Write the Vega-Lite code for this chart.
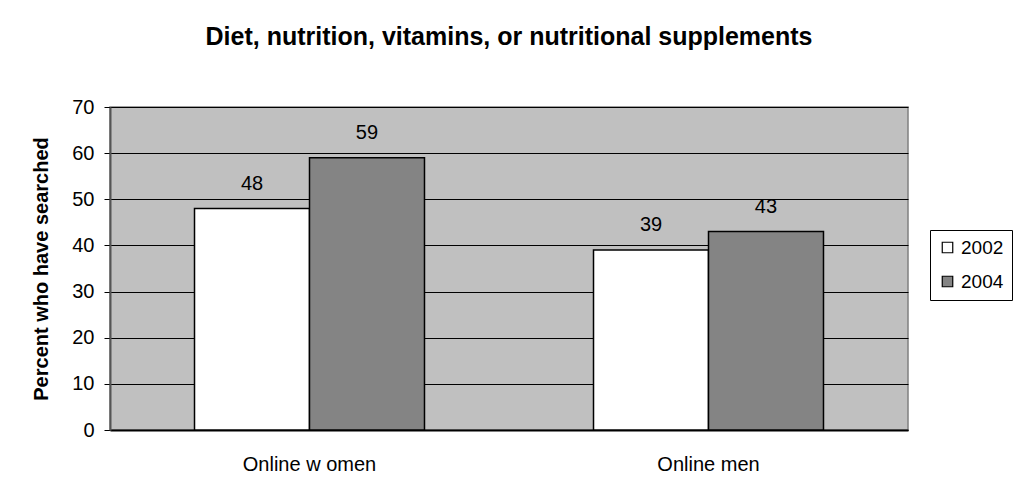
{
  "$schema": "https://vega.github.io/schema/vega-lite/v6.json",
  "autosize": {"type": "none"},
  "width": 798,
  "height": 323,
  "padding": {"left": 110, "top": 107, "right": 110, "bottom": 71},
  "background": "white",
  "title": {
    "text": "Diet, nutrition, vitamins, or nutritional supplements",
    "font": "Liberation Sans",
    "fontSize": 25,
    "fontWeight": "bold",
    "color": "black",
    "anchor": "middle",
    "offset": 47
  },
  "data": {
    "values": [
      {"group": "Online w omen", "year": "2002", "value": 48},
      {"group": "Online w omen", "year": "2004", "value": 59},
      {"group": "Online men", "year": "2002", "value": 39},
      {"group": "Online men", "year": "2004", "value": 43}
    ]
  },
  "encoding": {
    "x": {
      "field": "group",
      "type": "nominal",
      "sort": ["Online w omen", "Online men"],
      "scale": {"paddingInner": 0.4236, "paddingOuter": 0.2118},
      "axis": {
        "title": null,
        "labelAngle": 0,
        "labelFont": "Liberation Sans",
        "labelFontSize": 20,
        "labelColor": "black",
        "labelPadding": 24,
        "ticks": false,
        "domainColor": "black",
        "domainWidth": 2
      }
    },
    "xOffset": {"field": "year", "type": "nominal", "scale": {"paddingInner": 0, "paddingOuter": 0}},
    "y": {
      "field": "value",
      "type": "quantitative",
      "scale": {"domain": [0, 70], "nice": false},
      "axis": {
        "title": "Percent who have searched",
        "titleFont": "Liberation Sans",
        "titleFontSize": 20,
        "titleFontWeight": "bold",
        "titleColor": "black",
        "titlePadding": 20,
        "values": [0, 10, 20, 30, 40, 50, 60, 70],
        "labelFont": "Liberation Sans",
        "labelFontSize": 20,
        "labelColor": "black",
        "labelPadding": 10,
        "tickSize": 6,
        "tickColor": "black",
        "domainColor": "#555555",
        "domainWidth": 2,
        "grid": true,
        "gridColor": "black",
        "gridWidth": 1
      }
    }
  },
  "layer": [
    {
      "mark": {"type": "bar", "stroke": "black", "strokeWidth": 1.5},
      "encoding": {
        "fill": {
          "field": "year",
          "type": "nominal",
          "scale": {"domain": ["2002", "2004"], "range": ["#ffffff", "#848484"]},
          "legend": {
            "title": null,
            "orient": "none",
            "legendX": 820,
            "legendY": 123,
            "labelFont": "Liberation Sans",
            "labelFontSize": 19,
            "labelColor": "black",
            "labelOffset": 4,
            "symbolType": "square",
            "symbolSize": 110,
            "symbolStrokeColor": "black",
            "symbolStrokeWidth": 1.2,
            "rowPadding": 14,
            "padding": 8,
            "strokeColor": "black",
            "fillColor": "white"
          }
        }
      }
    },
    {
      "mark": {"type": "text", "dy": -25, "font": "Liberation Sans", "fontSize": 20, "color": "black"},
      "encoding": {"text": {"field": "value", "type": "quantitative"}}
    }
  ],
  "config": {
    "view": {"fill": "#c0c0c0", "stroke": "#808080", "strokeWidth": 1.5}
  }
}
